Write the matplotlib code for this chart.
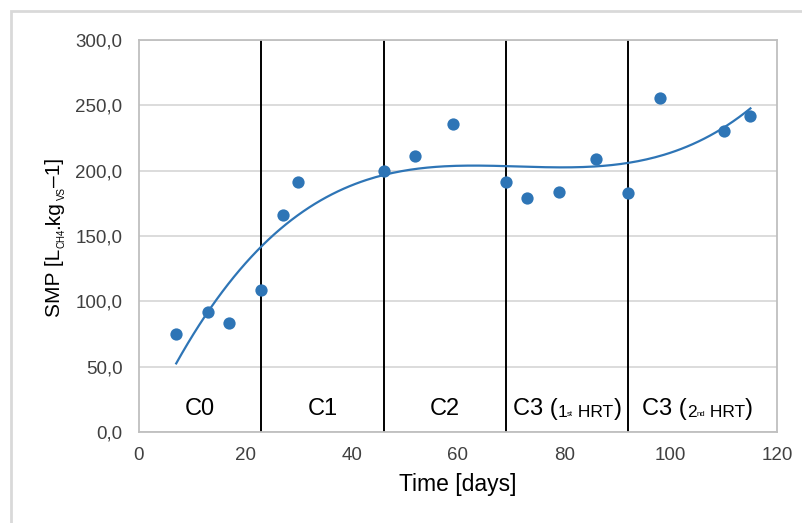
import numpy as np
import matplotlib
matplotlib.use("Agg")
import matplotlib.pyplot as plt
from matplotlib.patches import Rectangle

plt.rcParams['font.family'] = ['Liberation Sans', 'DejaVu Sans']

# data
days = [7, 13, 17, 23, 27, 30, 46, 52, 59, 69, 73, 79, 86, 92, 98, 110, 115]
smp = [75.2, 91.5, 83.4, 108.9, 166.2, 191.2, 199.4, 211.1, 235.7,
       191.7, 179.4, 183.5, 208.6, 182.7, 255.6, 230.1, 241.6]
phase_bounds = [23, 46, 69, 92]
phase_labels = ["C0", "C1", "C2"]
phase_label_x = [11.5, 34.5, 57.5]
hrt_labels = [("1", "st"), ("2", "nd")]
hrt_label_x = [70.3, 94.6]
y_ticks = [0, 50, 100, 150, 200, 250, 300]
x_ticks = [0, 20, 40, 60, 80, 100, 120]

blue = "#2E75B6"
grey_txt = "#404040"

fig = plt.figure(figsize=(8.03, 5.23), dpi=100)
ax = fig.add_axes([139 / 803, 1 - 432 / 523, 638 / 803, 392 / 523])

# chart area border (only top and left are visible)
fig.patches.append(Rectangle((11 / 803, -0.1), 1.2, (523 - 11) / 523 + 0.1,
                             transform=fig.transFigure, fill=False,
                             edgecolor="#d9d9d9", linewidth=2))

ax.set_xlim(0, 120)
ax.set_ylim(0, 300)
ax.set_yticks(y_ticks)
ax.set_xticks(x_ticks)
ax.set_yticklabels([("%.1f" % v).replace(".", ",") for v in y_ticks])
ax.tick_params(length=0, labelsize=13.5, colors=grey_txt)
ax.tick_params(axis="y", pad=12)
ax.tick_params(axis="x", pad=10.5)
ax.grid(axis="y", color="#d9d9d9", linewidth=1.3)
ax.set_axisbelow(True)
for s in ax.spines.values():
    s.set_color("#bfbfbf")
    s.set_linewidth(1.3)

for b in phase_bounds:
    ax.axvline(b, color="black", linewidth=1.4, zorder=2)

# polynomial trendline (order 3)
coef = np.polyfit(days, smp, 3)
xt = np.linspace(min(days), max(days), 200)
ax.plot(xt, np.polyval(coef, xt), color=blue, linewidth=1.6, zorder=3)

ax.scatter(days, smp, s=78, color=blue, zorder=4, linewidths=0)

for lab, x in zip(phase_labels, phase_label_x):
    ax.text(x, 13, lab, fontsize=17, ha="center", va="baseline", color="black")

for (num, suf), x in zip(hrt_labels, hrt_label_x):
    t = ax.text(x, 13, "C3 (", fontsize=17, ha="left", va="baseline", color="black")
    t = ax.annotate(num, xy=(1, 0), xycoords=t, xytext=(0, 0), textcoords="offset points",
                    fontsize=12.5, ha="left", va="bottom", color="black")
    t2 = ax.annotate(suf, xy=(1, 0), xycoords=t, xytext=(0, 1.5), textcoords="offset points",
                     fontsize=5.5, ha="left", va="bottom", color="black")
    t = ax.annotate(" HRT", xy=(1, 0), xycoords=t2, xytext=(0, -1.5), textcoords="offset points",
                    fontsize=12.5, ha="left", va="bottom", color="black")
    ax.annotate(")", xy=(1, 0), xycoords=t, xytext=(0, 0), textcoords="offset points",
                fontsize=17, ha="left", va="bottom", color="black")

ax.set_xlabel("Time [days]", fontsize=16.5, color="black", labelpad=7)

# y label built from pieces so the subscripts can be small
p = fig.text(54 / 803, (523 - 317) / 523, "SMP [L", rotation=90, fontsize=15,
             ha="center", va="bottom", color="black")
sub = ax.annotate("CH4", xy=(1, 1), xycoords=p, xytext=(2.5, 0.5), textcoords="offset points",
                  rotation=90, fontsize=7, ha="right", va="bottom", color="black")
p = ax.annotate(".kg", xy=(1, 1), xycoords=(p, sub), xytext=(0, 0), textcoords="offset points",
                rotation=90, fontsize=15, ha="right", va="bottom", color="black")
sub = ax.annotate("VS", xy=(1, 1), xycoords=p, xytext=(2.5, 0.5), textcoords="offset points",
                  rotation=90, fontsize=7, ha="right", va="bottom", color="black")
ax.annotate("‒1]", xy=(1, 1), xycoords=(p, sub), xytext=(0, 0), textcoords="offset points",
            rotation=90, fontsize=15, ha="right", va="bottom", color="black")

fig.savefig("out.png", dpi=100)
